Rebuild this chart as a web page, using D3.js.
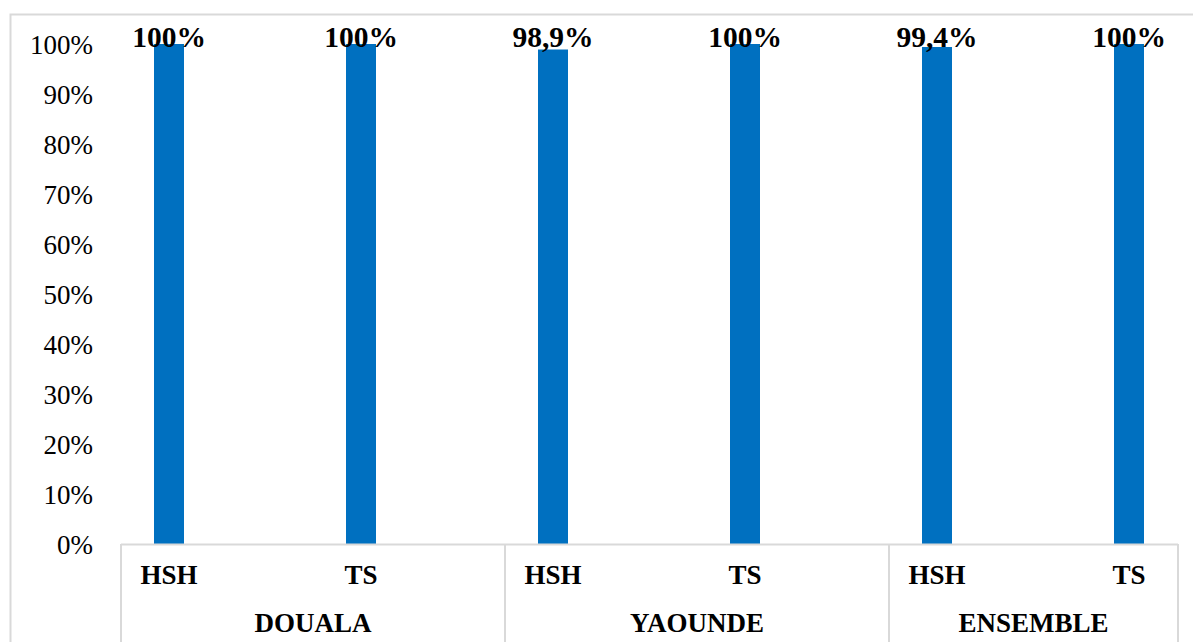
<!DOCTYPE html>
<html>
<head>
<meta charset="utf-8">
<script src="https://cdn.jsdelivr.net/npm/d3@7"></script>
<style>
  html, body { margin: 0; padding: 0; background: #fff; }
  svg { display: block; }
  text { font-family: "Liberation Serif", "Times New Roman", serif; fill: #000; }
</style>
</head>
<body>
<svg id="chart" width="1193" height="642"></svg>
<script>
// Data
const groups = ["DOUALA", "YAOUNDE", "ENSEMBLE"];
const subgroups = ["HSH", "TS"];
const values = [100, 100, 98.9, 100, 99.4, 100];
const valueLabels = ["100%", "100%", "98,9%", "100%", "99,4%", "100%"];
const yTicks = [0, 10, 20, 30, 40, 50, 60, 70, 80, 90, 100];

// Flattened category list: one entry per (group, subgroup)
const cats = [];
groups.forEach((g, gi) => subgroups.forEach((s, si) => cats.push({ group: g, sub: s, gi, idx: cats.length })));

const svg = d3.select("#chart");
const W = 1193, H = 642;

// Layout
const plotLeft = 121, plotRight = 1178, plotTop = 44, plotBottom = 544;
const bandW = 192;
const lineColor = "#d9d9d9";

// Chart frame
svg.append("rect")
  .attr("x", 10.5).attr("y", 14.5)
  .attr("width", 1300).attr("height", 800)
  .attr("fill", "none").attr("stroke", lineColor).attr("stroke-width", 2);

const x = d3.scaleBand()
  .domain(cats.map(d => d.idx))
  .range([plotLeft, plotLeft + bandW * cats.length])
  .paddingInner(0).paddingOuter(0);

const y = d3.scaleLinear().domain([0, 100]).range([plotBottom, plotTop]);

// Y axis (labels only)
const yAxis = d3.axisLeft(y)
  .tickValues(yTicks)
  .tickFormat(d => d + "%")
  .tickSize(0)
  .tickPadding(0);
const gy = svg.append("g").attr("transform", `translate(93,0)`).call(yAxis);
gy.select(".domain").remove();
gy.selectAll("text")
  .style("font-family", '"Liberation Serif", "Times New Roman", serif')
  .style("font-size", "27px")
  .attr("fill", "#000")
  .attr("dy", "0.34em");

// Bars (first series of a two-slot cluster: centred at a quarter of each band)
const barW = 30;
const barCx = d => x(d.idx) + x.bandwidth() * 0.25;

svg.append("g").selectAll("rect")
  .data(cats)
  .join("rect")
  .attr("x", d => barCx(d) - barW / 2)
  .attr("y", d => y(values[d.idx]))
  .attr("width", barW)
  .attr("height", d => y(0) - y(values[d.idx]))
  .attr("fill", "#0070C0");

// Value labels (outside end, kept inside the plot area)
svg.append("g").selectAll("text")
  .data(cats)
  .join("text")
  .attr("x", d => barCx(d))
  .attr("y", d => Math.max(y(values[d.idx]) - 6, plotTop + 3))
  .attr("text-anchor", "middle")
  .style("font-size", "29.5px")
  .style("font-weight", "bold")
  .text(d => valueLabels[d.idx]);

// Category axis box
const axisG = svg.append("g").attr("stroke", lineColor).attr("stroke-width", 2);
axisG.append("line")
  .attr("x1", plotLeft).attr("x2", plotRight)
  .attr("y1", plotBottom + 0.5).attr("y2", plotBottom + 0.5);

const bounds = groups.map((g, gi) => {
  const start = x(gi * subgroups.length);
  const end = Math.min(start + bandW * subgroups.length, plotRight);
  return { g, start, end };
});
const sepXs = bounds.map(b => b.start).concat([plotRight]);
axisG.selectAll("line.sep")
  .data(sepXs)
  .join("line")
  .attr("class", "sep")
  .attr("x1", d => d).attr("x2", d => d)
  .attr("y1", plotBottom).attr("y2", H + 10);

// Subgroup labels
svg.append("g").selectAll("text")
  .data(cats)
  .join("text")
  .attr("x", d => barCx(d))
  .attr("y", 584)
  .attr("text-anchor", "middle")
  .style("font-size", "27px")
  .style("font-weight", "bold")
  .text(d => d.sub);

// Group labels
svg.append("g").selectAll("text")
  .data(bounds)
  .join("text")
  .attr("x", d => (d.start + d.end) / 2)
  .attr("y", 632)
  .attr("text-anchor", "middle")
  .style("font-size", "27px")
  .style("font-weight", "bold")
  .text(d => d.g);
</script>
</body>
</html>
